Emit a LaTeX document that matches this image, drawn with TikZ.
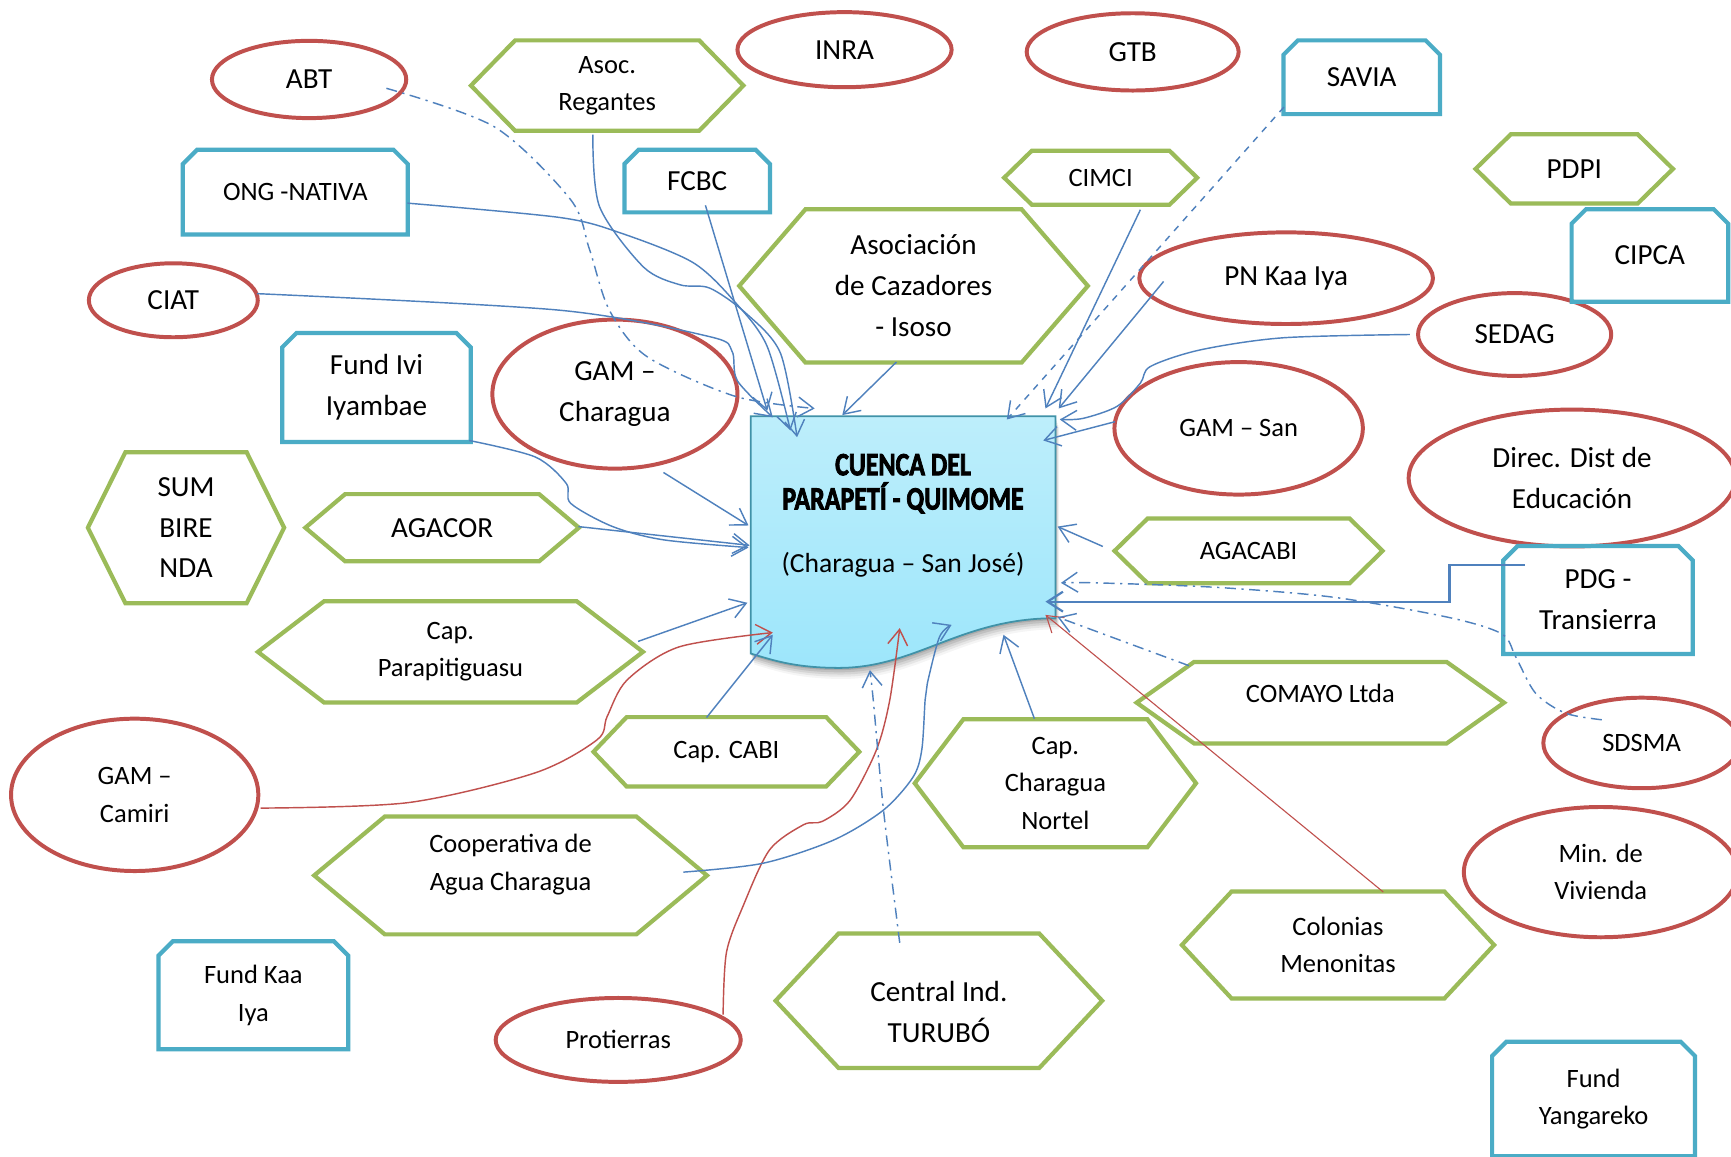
\documentclass[tikz,border=0pt]{standalone}
\usepackage{fontspec}
\usepackage{graphicx}
\setmainfont{Carlito}
\newfontfamily\titlefont[FakeBold=2.8]{Carlito}
\usetikzlibrary{shapes.geometric,arrows.meta}
\definecolor{redc}{HTML}{C0504D}
\definecolor{bluec}{HTML}{4BACC6}
\definecolor{greenc}{HTML}{9BBB59}
\definecolor{linec}{HTML}{4F81BD}
\definecolor{ctop}{HTML}{BDEEFB}
\definecolor{cbot}{HTML}{9DE6FB}
\newcommand\myu{0.5pt}
\newcommand\fbig{\fontsize{13.2}{18.5}\selectfont}
\newcommand\fmed{\fontsize{12}{17}\selectfont}
\newcommand\ttl[1]{{\titlefont\bfseries\scalebox{0.84}[1.05]{#1}}}
\tikzset{
 ellnode/.style={ellipse, draw=redc, line width=1.8pt, inner sep=0pt, align=center},
 hexnode/.style={rectangle, inner sep=0pt, align=center},
 hexline/.style={draw=greenc, line width=1.9pt},
 boxnode/.style={rectangle, inner sep=0pt, align=center},
 boxline/.style={draw=bluec, line width=1.9pt},
 conn/.style={draw=linec, line width=0.65pt, -{Straight Barb[length=7pt,width=9pt]}},
 redconn/.style={conn, draw=redc},
 dashdot/.style={dash pattern=on 5pt off 2.5pt on 1pt off 2.5pt},
}
\newcommand\Ellnode[7]{%
 \node[ellnode, minimum width=#4*\myu, minimum height=#5*\myu, font=#6] (#1) at (#2,#3) {#7};}
\newcommand\Boxnode[7]{%
 \node[boxnode, minimum width=#4*\myu, minimum height=#5*\myu, font=#6] (#1) at (#2,#3) {#7};
 \draw[boxline] ([yshift=-6.5pt]#1.north west) -- ([xshift=6.5pt]#1.north west) -- ([xshift=-6.5pt]#1.north east) -- ([yshift=-6.5pt]#1.north east) -- (#1.south east) -- (#1.south west) -- cycle;}
\newcommand\Hexnode[9]{%
 \node[hexnode, minimum width=#4*\myu, minimum height=#5*\myu, font=#8] (#1) at (#2,{#3+(#7)}) {#9};
 \draw[hexline] ([yshift=#7*\myu]#1.west) -- ([xshift=#6*\myu, yshift=#7*\myu]#1.north west) -- ([xshift=-#6*\myu, yshift=#7*\myu]#1.north east) -- ([yshift=#7*\myu]#1.east) -- ([xshift=-#6*\myu, yshift=#7*\myu]#1.south east) -- ([xshift=#6*\myu, yshift=#7*\myu]#1.south west) -- cycle;}

\begin{document}
\begin{tikzpicture}[x=0.5pt, y=-0.5pt]
\useasboundingbox (0,0) rectangle (1568,1048);
\fill[white] (0,0) rectangle (1568,1048);

% ellipses
\Ellnode{ABT}{280}{72}{176}{70}{\fbig}{ABT}
\Ellnode{INRA}{765}{45}{194}{68}{\fbig}{INRA}
\Ellnode{GTB}{1026}{47}{192}{70}{\fbig}{GTB}
\Ellnode{CIAT}{157}{272}{153}{67}{\fbig}{CIAT}
\Ellnode{GAMCh}{557}{357}{222}{135}{\fbig}{GAM –\\Charagua}
\Ellnode{PNK}{1165}{252}{266}{83}{\fbig}{PN Kaa Iya}
\Ellnode{SEDAG}{1372}{303}{175}{75}{\fbig}{SEDAG}
\Ellnode{GAMSan}{1122}{388}{225}{120}{\fmed}{GAM – San}
\Ellnode{Direc}{1424}{433}{296}{124}{\fbig}{Direc. Dist de\\Educación}
\Ellnode{GAMCam}{122}{720}{224}{138}{\fmed}{GAM –\\Camiri}
\Ellnode{SDSMA}{1487}{673}{178}{82}{\fmed}{SDSMA}
\Ellnode{MinViv}{1450}{790}{248}{118}{\fmed}{Min. de\\Vivienda}
\Ellnode{Prot}{560}{942}{222}{76}{\fmed}{Protierras}

% boxes
\Boxnode{ONG}{267.5}{174}{203}{76}{\fmed}{ONG -NATIVA}
\Boxnode{FCBC}{631.5}{164}{131}{56}{\fbig}{FCBC}
\Boxnode{SAVIA}{1233.5}{70}{141}{66}{\fbig}{SAVIA}
\Boxnode{CIPCA}{1494.5}{231.5}{141}{83}{\fbig}{CIPCA}
\Boxnode{FIvi}{341}{351}{170}{98}{\fbig}{Fund Ivi\\Iyambae}
\Boxnode{PDG}{1447.5}{543.5}{171}{97}{\fbig}{PDG -\\Transierra}
\Boxnode{FKaa}{229.5}{901.5}{171}{97}{\fmed}{Fund Kaa\\Iya}
\Boxnode{FYan}{1443.5}{995.5}{183}{103}{\fmed}{Fund\\Yangareko}

% hexagons
\Hexnode{AReg}{550}{77.5}{246}{81}{40}{0}{\fmed}{Asoc.\\Regantes}
\Hexnode{CIMCI}{997}{161}{174}{48}{25}{0}{\fmed}{CIMCI}
\Hexnode{ACaz}{827.5}{259}{315}{138}{60}{0}{\fbig}{Asociación\\de Cazadores\\- Isoso}
\Hexnode{PDPI}{1426}{153}{178}{62}{32}{0}{\fbig}{PDPI}
\Hexnode{SUM}{168.5}{478}{177}{136}{34}{0}{\fbig}{SUM\\BIRE\\NDA}
\Hexnode{AGACOR}{400.5}{478}{247}{60}{36}{0}{\fbig}{AGACOR}
\Hexnode{CPara}{408}{590.5}{348}{91}{60}{0}{\fmed}{Cap.\\Parapitiguasu}
\Hexnode{AGACABI}{1131}{499}{242}{58}{30}{0}{\fmed}{AGACABI}
\Hexnode{CABI}{658}{681}{240}{62}{30}{0}{\fmed}{Cap. CABI}
\Hexnode{COMAYO}{1196}{636.5}{332}{73}{52}{-8}{\fmed}{COMAYO Ltda}
\Hexnode{CNor}{956}{709.5}{254}{115}{44}{0}{\fmed}{Cap.\\Charagua\\Nortel}
\Hexnode{Coop}{462.5}{793}{355}{106}{64}{-10}{\fmed}{Cooperativa de\\Agua Charagua}
\Hexnode{Colon}{1212}{856}{282}{96}{45}{0}{\fmed}{Colonias\\Menonitas}
\Hexnode{CInd}{850.5}{906.5}{295}{121}{57}{10}{\fbig}{Central Ind.\\TURUBÓ}

% central document shape
\node[rectangle, inner sep=0pt, minimum width=276*\myu, minimum height=223*\myu] (C) at (818,488) {};
\foreach \s/\o in {2/0.10, 4/0.09, 6/0.08, 8/0.06, 10/0.04} {
\fill[black, opacity=\o, shift={(\s/3,\s)}] (680,377) -- (956,377) -- (956,560) .. controls (870,560) and (830,605) .. (760,605) .. controls (720,605) and (700,598) .. (680,592) -- cycle;
}
\path[top color=ctop, bottom color=cbot, draw=bluec!85!black, line width=0.8pt] (680,377) -- (956,377) -- (956,560) .. controls (870,560) and (830,605) .. (760,605) .. controls (720,605) and (700,598) .. (680,592) -- cycle;
\node[align=center, inner sep=0pt, font=\fontsize{14}{15.5}\selectfont] (Ct) at (818,467) {\ttl{CUENCA DEL}\\\ttl{PARAPETÍ - QUIMOME}\\[13pt]{\fontsize{12.5}{15.5}\selectfont(Charagua – San José)}};

% connectors
\draw[conn, dashdot] plot[smooth] coordinates {([shift={(70,8)}]ABT.center) (448,115) (517,181) (534,226) (552,281) (586,323) (666,359) ([shift={(-80,-118)}]C.center)};
\draw[conn] plot[smooth] coordinates {([shift={(-13,44.5)}]AReg.center) (543,187) (583,242) (616,258) (643,261) (676,284) (707,320) ([shift={(-96,-92)}]C.center)};
\draw[conn] plot[smooth] coordinates {([shift={(101.5,10)}]ONG.center) (507,197) (562,211) (628,238) (667,275) (695,314) ([shift={(-102,-98)}]C.center)};
\draw[conn] ([shift={(7.5,22)}]FCBC.center) -- ([shift={(-123,-116)}]C.center);
\draw[conn] plot[smooth] coordinates {([shift={(76,-6)}]CIAT.center) (507,281) (643,305) (663,318) (668,345) ([shift={(-118,-110)}]C.center)};
\draw[conn] ([shift={(-15.5,69)}]ACaz.center) -- ([shift={(-55,-112)}]C.center);
\draw[conn] ([shift={(36,29)}]CIMCI.center) -- ([shift={(129,-118)}]C.center);
\draw[conn, dashed] ([shift={(-70.5,27)}]SAVIA.center) -- ([shift={(94,-108)}]C.center);
\draw[conn] ([shift={(-111,3)}]PNK.center) -- ([shift={(141,-118)}]C.center);
\draw[conn] plot[smooth] coordinates {([shift={(-95,0)}]SEDAG.center) (1162,306) (1087,317) (1042,332) (1033,347) (1012,368) (981,379) ([shift={(142,-108)}]C.center)};
\draw[conn] ([shift={(-112,-6)}]GAMSan.center) -- ([shift={(127,-89)}]C.center);
\draw[conn] ([shift={(44,71)}]GAMCh.center) -- ([shift={(-140,-12)}]C.center);
\draw[conn] plot[smooth] coordinates {([shift={(84,48)}]FIvi.center) (485,414) (513,438) (517,456) (555,477) (601,489) ([shift={(-140,8)}]C.center)};
\draw[conn] ([shift={(123.5,-1)}]AGACOR.center) -- ([shift={(-139,6)}]C.center);
\draw[conn] ([shift={(170,-9.5)}]CPara.center) -- ([shift={(-141,58)}]C.center);
\draw[redconn] plot[smooth] coordinates {([shift={(114,12)}]GAMCam.center) (370,727) (485,700) (541,670) (550,649) (568,616) (615,586) ([shift={(-118,85)}]C.center)};
\draw[conn] ([shift={(-18,-31)}]CABI.center) -- ([shift={(-118,87)}]C.center);
\draw[redconn] plot[smooth] coordinates {([shift={(95,-23)}]Prot.center) (658,863) (673,821) (697,770) (728,747) (745,744) (770,725) (794,679) (806,634) ([shift={(-3,81)}]C.center)};
\draw[conn] plot[smooth] coordinates {([shift={(156.5,7)}]Coop.center) (691,782) (755,761) (800,734) (827,704) (835,679) (838,634) (840,619) (851,577) ([shift={(44,78)}]C.center)};
\draw[conn, dashdot] plot[smooth] coordinates {([shift={(-35.5,-62.5)}]CInd.center) (812,830) (800,731) (791,634) ([shift={(-30,119)}]C.center)};
\draw[conn] ([shift={(-19,-58.5)}]CNor.center) -- ([shift={(91,87)}]C.center);
\draw[redconn, line width=0.5pt] ([shift={(41,-48)}]Colon.center) -- ([shift={(129,69)}]C.center);
\draw[conn, dashdot] ([shift={(-119,-25.5)}]COMAYO.center) -- ([shift={(140,71)}]C.center);
\draw[conn, line width=1pt] ([shift={(-66.5,-31.5)}]PDG.center) -- ++(-68,0) |- ([shift={(129,57)}]C.center);
\draw[conn, dashdot] plot[smooth] coordinates {([shift={(-36,-21)}]SDSMA.center) (1418,646) (1391,628) (1373,595) (1360,574) (1311,559) (1208,541) (1101,532) (994,528) ([shift={(143,40)}]C.center)};
\draw[conn] ([shift={(-132,-4)}]AGACABI.center) -- ([shift={(140,-11)}]C.center);
\end{tikzpicture}
\end{document}
